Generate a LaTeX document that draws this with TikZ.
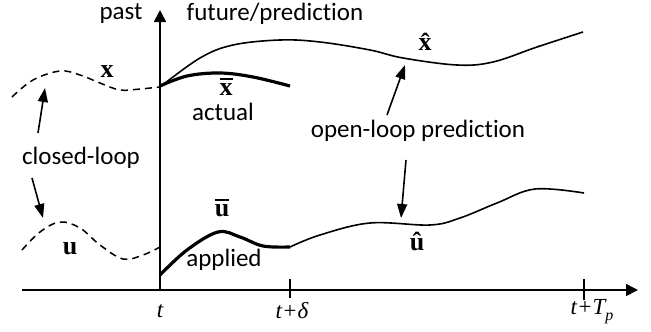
\documentclass[tikz,border=0pt]{standalone}
\usepackage{fontspec}
\setmainfont{Carlito}[Ligatures=NoCommon]
\newfontfamily\serif{Liberation Serif}
\usetikzlibrary{arrows.meta}
\newcommand\barbold[1]{\vbox{\hrule height 1.8pt\kern 3.5pt\hbox{#1}}}
\begin{document}
\begin{tikzpicture}[x=1pt,y=-1pt,
  sanslabel/.style={font=\fontsize{25}{28}\selectfont, inner sep=0pt},
  mathlabel/.style={font=\serif\fontsize{23}{26}\selectfont, inner sep=0pt},
  boldlabel/.style={font=\serif\bfseries\fontsize{26}{28}\selectfont, inner sep=0pt},
  thincurve/.style={line width=1.6pt},
  thickcurve/.style={line width=3.2pt},
  dashcurve/.style={line width=1.5pt, dash pattern=on 7pt off 5pt},
  pointer/.style={line width=1.6pt, -{Triangle[length=14pt,width=10pt]}},
  axis/.style={line width=1.6pt, -{Triangle[length=12pt,width=12pt]}},
  tick/.style={line width=1.6pt}]
\useasboundingbox (0,0) rectangle (651,332);

% axes
\coordinate (origin) at (160,290);
\coordinate (ytop) at (160,10);
\coordinate (xleft) at (22,290);
\coordinate (xright) at (638,290);
\draw[axis] (origin) -- (ytop);
\draw[axis] (xleft) -- (xright);

% ticks
\coordinate (d1) at (290,279); \coordinate (d2) at (290,298);
\coordinate (p1) at (584,279); \coordinate (p2) at (584,300);
\draw[tick] (d1) -- (d2);
\draw[tick] (p1) -- (p2);

% axis labels
\node[mathlabel] (lt) at (160,311) {\itshape t};
\node[mathlabel] (ltd) at (292,311) {\itshape t+δ};
\node[mathlabel] (ltp) at (592,312) {\itshape t+T\raisebox{-0.25em}{\fontsize{16}{18}\selectfont p}};
\node[sanslabel] (past) at (121,14) {past};
\node[sanslabel] (future) at (275,14) {future/prediction};

% state curves
\draw[dashcurve] plot[smooth, tension=0.6] coordinates {(12,97) (33,80) (60,71) (80,75) (100,83) (120,90) (140,89) (160,87)};
\draw[thincurve] plot[smooth, tension=0.6] coordinates {(160,87) (200,58) (233,45) (280,40) (320,42) (370,50) (403,58) (457,65) (493,62) (537,47) (583,32)};
\draw[thickcurve] plot[smooth, tension=0.6] coordinates {(160,86) (187,76) (220,73) (253,77) (290,86)};

% input curves
\draw[dashcurve] plot[smooth, tension=0.6] coordinates {(22,250) (40,232) (60,222) (80,228) (100,245) (123,259) (143,255) (160,247)};
\draw[thickcurve] plot[smooth, tension=0.6] coordinates {(160,275) (187,250) (218,232) (240,237) (263,246) (290,247)};
\draw[thincurve] plot[smooth, tension=0.6] coordinates {(290,247) (320,235) (370,223) (430,225) (460,218) (497,203) (535,189) (584,193)};

% curve labels
\node[boldlabel] (xl) at (107,72) {x};
\node[boldlabel] (xhat) at (425,42) {\^{x}};
\node[boldlabel] (xbar) at (226,87) {\barbold{x}};
\node[sanslabel] (actual) at (223,112) {actual};
\node[boldlabel] (ul) at (70,249) {u};
\node[boldlabel] (ubar) at (222,208) {\barbold{u}};
\node[sanslabel] (applied) at (224,260) {applied};
\node[boldlabel] (uhat) at (417,241) {\^{u}};

% pointer labels
\node[sanslabel] (closed) at (81,158) {closed-loop};
\node[sanslabel] (open) at (418,131) {open-loop prediction};

\coordinate (c1tail) at (38,133); \coordinate (c1tip) at (45,88);
\coordinate (c2tail) at (32,178); \coordinate (c2tip) at (43,218);
\coordinate (o1tail) at (387,115); \coordinate (o1tip) at (405,65);
\coordinate (o2tail) at (406,160); \coordinate (o2tip) at (401,218);
\draw[pointer] (c1tail) -- (c1tip);
\draw[pointer] (c2tail) -- (c2tip);
\draw[pointer] (o1tail) -- (o1tip);
\draw[pointer] (o2tail) -- (o2tip);
\end{tikzpicture}
\end{document}
